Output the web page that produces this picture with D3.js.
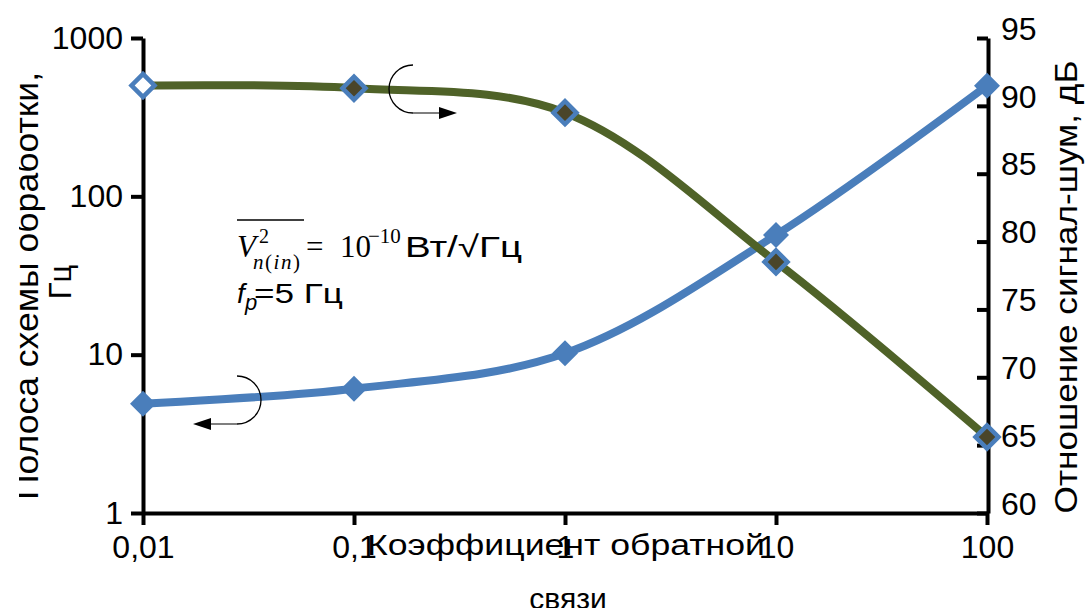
<!DOCTYPE html>
<html><head><meta charset="utf-8">
<script src="https://cdn.jsdelivr.net/npm/d3@7"></script>
<style>body{margin:0;background:#fff} svg{display:block}</style>
</head><body>
<svg id="c" width="1086" height="608"></svg>
<script>
// ---- data ----
const feedback = [0.01, 0.1, 1, 10, 100];
const bandwidth = [4.9, 6.1, 10.2, 57, 500];       // Гц, left axis
const snr = [91.5, 91.3, 89.5, 78.5, 65.6];        // дБ, right axis
const xTicks = [0.01, 0.1, 1, 10, 100];
const xTickLabels = ["0,01", "0,1", "1", "10", "100"];
const yLeftTicks = [1, 10, 100, 1000];
const yLeftTickLabels = ["1", "10", "100", "1000"];
const yRightTicks = [60, 65, 70, 75, 80, 85, 90, 95];

const W = 1086, H = 608;
const L = 143, R = 987, T = 38, B = 513;
const FONT = "'Liberation Sans', Arial, sans-serif";
const SERIF = "'Liberation Serif', 'Times New Roman', serif";
const BLUE = "#4a7ebb", GREEN = "#4f6228", DARK = "#4a452a";

const svg = d3.select("#c");
const x = d3.scaleLog().domain([0.01, 100]).range([L, R]);
const yL = d3.scaleLog().domain([1, 1000]).range([B, T]);
const yR = d3.scaleLinear().domain([60, 95]).range([B, T]);

function styleAxis(g) {
  g.selectAll("path.domain").attr("stroke", "#000").attr("stroke-width", 4);
  g.selectAll(".tick line").attr("stroke", "#000").attr("stroke-width", 4);
  g.selectAll(".tick text").attr("font-family", FONT).attr("font-size", 32).attr("fill", "#000");
}

// left axis
const gL = svg.append("g").attr("transform", `translate(${L},0)`)
  .call(d3.axisLeft(yL).tickValues(yLeftTicks).tickFormat((d, i) => yLeftTickLabels[i])
    .tickSize(12).tickSizeOuter(0).tickPadding(8));
styleAxis(gL);

// right axis
const gR = svg.append("g").attr("transform", `translate(${R + 1},0)`)
  .call(d3.axisRight(yR).tickValues(yRightTicks).tickFormat(d3.format("d"))
    .tickSize(-11).tickSizeOuter(0).tickPadding(13));
styleAxis(gR);
gR.selectAll(".tick text").attr("dy", "0.32em").attr("y", -9);

// bottom axis
const gB = svg.append("g").attr("transform", `translate(0,${B})`)
  .call(d3.axisBottom(x).tickValues(xTicks).tickFormat((d, i) => xTickLabels[i])
    .tickSize(12).tickSizeOuter(0).tickPadding(10));
styleAxis(gB);

// ---- series ----
const curve = d3.curveCatmullRom.alpha(0.5);
const lineBlue = d3.line().x((d, i) => x(feedback[i])).y(d => yL(d)).curve(curve);
const lineGreen = d3.line().x((d, i) => x(feedback[i])).y(d => yR(d)).curve(curve);

svg.append("path").datum(bandwidth).attr("d", lineBlue)
  .attr("fill", "none").attr("stroke", BLUE).attr("stroke-width", 8);

const diamondBig = d3.symbol().type(d3.symbolSquare).size(2 * 13 * 13);
svg.selectAll("path.mb").data(bandwidth).join("path").attr("class", "mb")
  .attr("d", diamondBig)
  .attr("transform", (d, i) => `translate(${x(feedback[i])},${yL(d)}) rotate(45)`)
  .attr("fill", BLUE);

svg.append("path").datum(snr).attr("d", lineGreen)
  .attr("fill", "none").attr("stroke", GREEN).attr("stroke-width", 8);

const diamondG = d3.symbol().type(d3.symbolSquare).size(2 * 11.5 * 11.5);
svg.selectAll("path.mg").data(snr).join("path").attr("class", "mg")
  .attr("d", diamondG)
  .attr("transform", (d, i) => `translate(${x(feedback[i])},${yR(d)}) rotate(45)`)
  .attr("fill", (d, i) => i === 0 ? "#fff" : DARK)
  .attr("stroke", BLUE).attr("stroke-width", 4.5);

// ---- axis titles ----
svg.append("defs").append("clipPath").attr("id", "clipL")
  .append("rect").attr("x", 19).attr("y", 0).attr("width", W).attr("height", H);

const tL = svg.append("g").attr("clip-path", "url(#clipL)");
tL.append("text").attr("transform", "translate(38,286) rotate(-90)")
  .attr("text-anchor", "middle").attr("font-family", FONT).attr("font-size", 33)
  .attr("textLength", 428).attr("lengthAdjust", "spacingAndGlyphs")
  .text("Полоса схемы обработки,");
svg.append("text").attr("transform", "translate(71,282) rotate(-90)")
  .attr("text-anchor", "middle").attr("font-family", FONT).attr("font-size", 31)
  .text("Гц");

svg.append("text").attr("transform", "translate(1077,287) rotate(-90)")
  .attr("text-anchor", "middle").attr("font-family", FONT).attr("font-size", 31)
  .attr("textLength", 453).attr("lengthAdjust", "spacingAndGlyphs")
  .text("Отношение сигнал-шум, дБ");

svg.append("text").attr("x", 566).attr("y", 555)
  .attr("text-anchor", "middle").attr("font-family", FONT).attr("font-size", 30)
  .attr("textLength", 398).attr("lengthAdjust", "spacingAndGlyphs")
  .text("Коэффициент обратной");
svg.append("text").attr("x", 568).attr("y", 609)
  .attr("text-anchor", "middle").attr("font-family", FONT).attr("font-size", 30)
  .text("связи");

// ---- formula annotation ----
const ann = svg.append("g");
ann.append("line").attr("x1", 237).attr("x2", 304).attr("y1", 220).attr("y2", 220)
  .attr("stroke", "#000").attr("stroke-width", 1.3);
ann.append("text").attr("x", 237).attr("y", 257).attr("font-family", SERIF)
  .attr("font-style", "italic").attr("font-size", 31).text("V");
ann.append("text").attr("x", 259).attr("y", 243).attr("font-family", SERIF)
  .attr("font-size", 20).text("2");
const sub = ann.append("text").attr("x", 253).attr("y", 269).attr("font-family", SERIF)
  .attr("font-size", 21).attr("textLength", 47).attr("lengthAdjust", "spacing");
sub.append("tspan").attr("font-style", "italic").text("n");
sub.append("tspan").text("(");
sub.append("tspan").attr("font-style", "italic").text("in");
sub.append("tspan").text(")");
ann.append("text").attr("x", 306).attr("y", 257).attr("font-family", SERIF)
  .attr("font-size", 31).text("=");
ann.append("text").attr("x", 340).attr("y", 257).attr("font-family", SERIF)
  .attr("font-size", 31).text("10");
ann.append("text").attr("x", 368).attr("y", 243).attr("font-family", SERIF)
  .attr("font-size", 21).text("−10");
ann.append("text").attr("x", 405).attr("y", 257).attr("font-family", FONT)
  .attr("font-size", 30).attr("textLength", 117).attr("lengthAdjust", "spacingAndGlyphs")
  .text("Вт/√Гц");

ann.append("text").attr("x", 237).attr("y", 303).attr("font-family", FONT)
  .attr("font-style", "italic").attr("font-size", 28).text("f");
ann.append("text").attr("x", 245).attr("y", 310).attr("font-family", FONT)
  .attr("font-style", "italic").attr("font-size", 22).text("p");
ann.append("text").attr("x", 254).attr("y", 303).attr("font-family", FONT)
  .attr("font-size", 28).attr("textLength", 89).attr("lengthAdjust", "spacingAndGlyphs")
  .text("=5 Гц");

// ---- curved arrows ----
function arrow(cx, cy, r, side) {
  const g = svg.append("g");
  const p = d3.path();
  p.moveTo(cx, cy - r);
  p.arc(cx, cy, r, -Math.PI / 2, Math.PI / 2, side === "left");
  g.append("path").attr("d", p.toString()).attr("fill", "none")
    .attr("stroke", "#000").attr("stroke-width", 1.3);
  const dir = side === "left" ? 1 : -1;
  const y0 = cy + r;
  g.append("line").attr("x1", cx).attr("y1", y0).attr("x2", cx + dir * 28).attr("y2", y0)
    .attr("stroke", "#555").attr("stroke-width", 1.5);
  g.append("path")
    .attr("d", `M${cx + dir * 44},${y0} L${cx + dir * 26},${y0 - 6} L${cx + dir * 26},${y0 + 6} Z`)
    .attr("fill", "#000");
}
arrow(413, 89, 24, "left");
arrow(237, 400, 24, "right");
</script>
</body></html>
